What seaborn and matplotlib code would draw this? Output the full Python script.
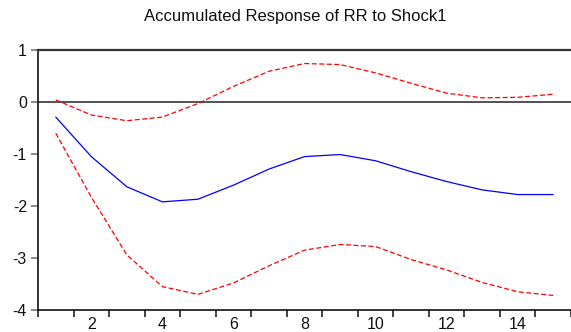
import numpy as np
import pandas as pd
import matplotlib
matplotlib.use("Agg")
import matplotlib.pyplot as plt
import seaborn as sns

# Accumulated impulse response of RR to Shock1, with +/- 2 S.E. bands
periods = list(range(1, 16))
response = [-0.29, -1.05, -1.63, -1.92, -1.87, -1.60, -1.29, -1.05, -1.01,
            -1.13, -1.34, -1.53, -1.69, -1.78, -1.78]
upper_band = [0.04, -0.25, -0.36, -0.29, -0.03, 0.30, 0.59, 0.74, 0.72,
              0.56, 0.36, 0.17, 0.08, 0.09, 0.15]
lower_band = [-0.60, -1.83, -2.94, -3.55, -3.70, -3.48, -3.15, -2.85, -2.74,
              -2.78, -3.03, -3.23, -3.47, -3.65, -3.72]
x_labels = [2, 4, 6, 8, 10, 12, 14]
y_ticks = [-4, -3, -2, -1, 0, 1]

sns.set_theme(style="white")
plt.rcParams["font.family"] = ["Liberation Sans", "DejaVu Sans"]
plt.rcParams["axes.unicode_minus"] = False

df = pd.DataFrame({
    "period": periods * 3,
    "value": response + upper_band + lower_band,
    "series": ["response"] * 15 + ["upper"] * 15 + ["lower"] * 15,
})

fig = plt.figure(figsize=(5.71, 3.32), dpi=100)
ax = fig.add_axes([38 / 571, 22 / 332, 1 - 38 / 571, 260 / 332])

sns.lineplot(data=df[df.series == "response"], x="period", y="value",
             color="#0000ff", lw=0.9, ax=ax)
for name in ["upper", "lower"]:
    sns.lineplot(data=df[df.series == name], x="period", y="value",
                 color="#ff0000", lw=0.9, ax=ax, linestyle=(0, (4, 2)))

ax.axhline(0, color="#222222", lw=1.1, zorder=1)

ax.set_xlim(0.5, 15.39)
ax.set_ylim(-4, 1)
ax.set_xlabel("")
ax.set_ylabel("")

ax.set_xticks(x_labels)
ax.set_xticklabels([str(v) for v in x_labels])
ax.set_xticks(np.arange(0.5, 16, 1), minor=True)
ax.tick_params(axis="x", which="major", length=0, labelsize=11.5, pad=5,
               colors="#111111")
ax.tick_params(axis="x", which="minor", length=5, width=1.2, direction="out",
               bottom=True, color="#222222")
ax.set_yticks(y_ticks)
ax.set_yticklabels([str(v) for v in y_ticks])
ax.tick_params(axis="y", which="major", length=5, width=1.2, direction="out",
               left=True, labelsize=11.5, pad=3, colors="#111111")
ax.tick_params(axis="y", which="major", color="#777777")

for side in ["left", "bottom"]:
    ax.spines[side].set_color("#111111")
    ax.spines[side].set_linewidth(1.2)
ax.spines["top"].set_color("#333333")
ax.spines["top"].set_linewidth(1.6)
ax.spines["right"].set_visible(False)

fig.text(295 / 571, 1 - 17 / 332, "Accumulated Response of RR to Shock1",
         ha="center", va="center", fontsize=12, color="#111111")

fig.savefig("out.png", dpi=100)
